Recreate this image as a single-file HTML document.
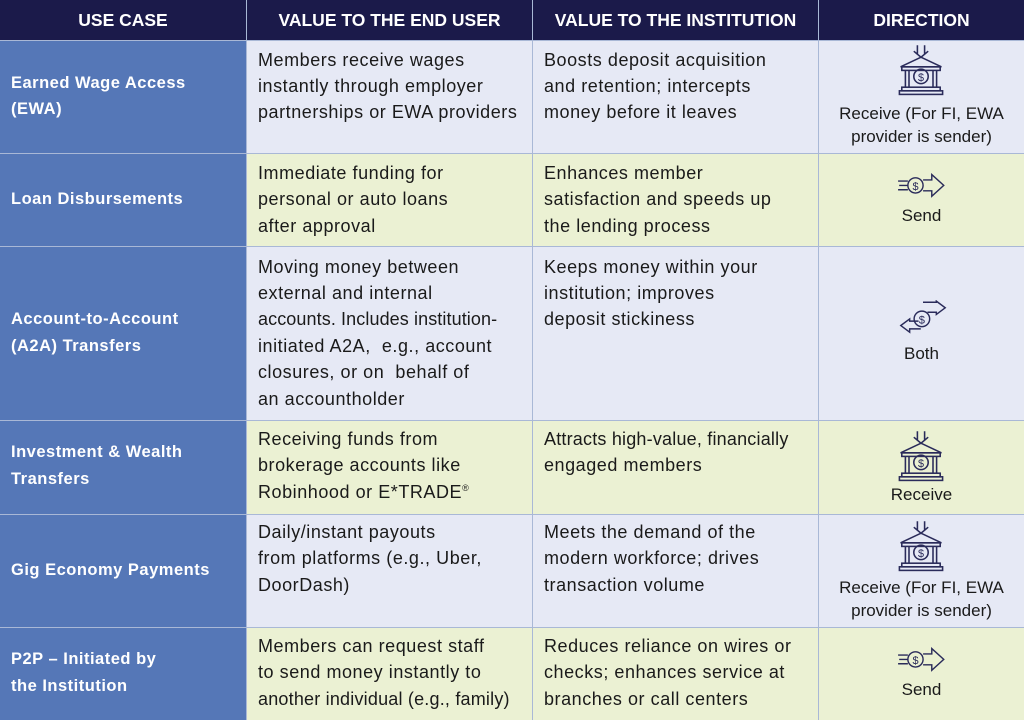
<!DOCTYPE html>
<html><head><meta charset="utf-8"><style>
body{margin:0;width:1024px;height:720px;overflow:hidden;background:#a9b8d6;font-family:"Liberation Sans",sans-serif;position:relative}
.c{position:absolute}
.h{background:#1b1a4a;color:#fff;font-weight:bold;font-size:17.5px;text-align:center;line-height:40px}
.b{background:#5577b7}.l{background:#e6e9f5}.g{background:#ebf1d3}
.t{position:absolute;font-size:18px;line-height:26px;color:#1a1a1a;white-space:nowrap;letter-spacing:0.55px}
.w{position:absolute;font-size:16.5px;line-height:26px;color:#fff;font-weight:bold;white-space:nowrap;letter-spacing:0.5px;left:11px}
.d{position:absolute;font-size:17px;line-height:23px;color:#1a1a1a;text-align:center;left:819px;width:205px;white-space:nowrap}
svg{position:absolute}
sup{font-size:9px;line-height:0;vertical-align:7px}
</style></head><body>
<div class="c h" style="left:0;top:0;width:246px;height:40px">USE CASE</div>
<div class="c h" style="left:247px;top:0;width:285px;height:40px">VALUE TO THE END USER</div>
<div class="c h" style="left:533px;top:0;width:285px;height:40px">VALUE TO THE INSTITUTION</div>
<div class="c h" style="left:819px;top:0;width:205px;height:40px">DIRECTION</div>

<div class="c b" style="left:0;top:41px;width:246px;height:112px"></div>
<div class="c l" style="left:247px;top:41px;width:285px;height:112px"></div>
<div class="c l" style="left:533px;top:41px;width:285px;height:112px"></div>
<div class="c l" style="left:819px;top:41px;width:205px;height:112px"></div>

<div class="c b" style="left:0;top:154px;width:246px;height:92px"></div>
<div class="c g" style="left:247px;top:154px;width:285px;height:92px"></div>
<div class="c g" style="left:533px;top:154px;width:285px;height:92px"></div>
<div class="c g" style="left:819px;top:154px;width:205px;height:92px"></div>

<div class="c b" style="left:0;top:247px;width:246px;height:173px"></div>
<div class="c l" style="left:247px;top:247px;width:285px;height:173px"></div>
<div class="c l" style="left:533px;top:247px;width:285px;height:173px"></div>
<div class="c l" style="left:819px;top:247px;width:205px;height:173px"></div>

<div class="c b" style="left:0;top:421px;width:246px;height:93px"></div>
<div class="c g" style="left:247px;top:421px;width:285px;height:93px"></div>
<div class="c g" style="left:533px;top:421px;width:285px;height:93px"></div>
<div class="c g" style="left:819px;top:421px;width:205px;height:93px"></div>

<div class="c b" style="left:0;top:515px;width:246px;height:112px"></div>
<div class="c l" style="left:247px;top:515px;width:285px;height:112px"></div>
<div class="c l" style="left:533px;top:515px;width:285px;height:112px"></div>
<div class="c l" style="left:819px;top:515px;width:205px;height:112px"></div>

<div class="c b" style="left:0;top:628px;width:246px;height:92px"></div>
<div class="c g" style="left:247px;top:628px;width:285px;height:92px"></div>
<div class="c g" style="left:533px;top:628px;width:285px;height:92px"></div>
<div class="c g" style="left:819px;top:628px;width:205px;height:92px"></div>

<!-- col1 -->
<div class="w" style="top:70px">Earned Wage Access</div>
<div class="w" style="top:96px">(EWA)</div>
<div class="w" style="top:186px">Loan Disbursements</div>
<div class="w" style="top:306px">Account-to-Account</div>
<div class="w" style="top:333px">(A2A) Transfers</div>
<div class="w" style="top:439px">Investment &amp; Wealth</div>
<div class="w" style="top:466px">Transfers</div>
<div class="w" style="top:557px">Gig Economy Payments</div>
<div class="w" style="top:646px">P2P – Initiated by</div>
<div class="w" style="top:673px">the Institution</div>

<!-- col2 -->
<div class="t" style="left:258px;top:47px">Members receive wages</div>
<div class="t" style="left:258px;top:73px">instantly through employer</div>
<div class="t" style="left:258px;top:99px">partnerships or EWA providers</div>
<div class="t" style="left:258px;top:160px">Immediate funding for</div>
<div class="t" style="left:258px;top:186px">personal or auto loans</div>
<div class="t" style="left:258px;top:213px">after approval</div>
<div class="t" style="left:258px;top:254px">Moving money between</div>
<div class="t" style="left:258px;top:280px">external and internal</div>
<div class="t" style="left:258px;top:306px;letter-spacing:0.1px">accounts. Includes institution-</div>
<div class="t" style="left:258px;top:333px">initiated A2A,&nbsp; e.g., account</div>
<div class="t" style="left:258px;top:359px">closures, or on&nbsp; behalf of</div>
<div class="t" style="left:258px;top:386px">an accountholder</div>
<div class="t" style="left:258px;top:426px">Receiving funds from</div>
<div class="t" style="left:258px;top:452px">brokerage accounts like</div>
<div class="t" style="left:258px;top:479px">Robinhood or E*TRADE<sup>®</sup></div>
<div class="t" style="left:258px;top:519px">Daily/instant payouts</div>
<div class="t" style="left:258px;top:545px">from platforms (e.g., Uber,</div>
<div class="t" style="left:258px;top:572px">DoorDash)</div>
<div class="t" style="left:258px;top:633px">Members can request staff</div>
<div class="t" style="left:258px;top:659px">to send money instantly to</div>
<div class="t" style="left:258px;top:686px;letter-spacing:0.2px">another individual (e.g., family)</div>

<!-- col3 -->
<div class="t" style="left:544px;top:47px">Boosts deposit acquisition</div>
<div class="t" style="left:544px;top:73px">and retention; intercepts</div>
<div class="t" style="left:544px;top:99px">money before it leaves</div>
<div class="t" style="left:544px;top:160px">Enhances member</div>
<div class="t" style="left:544px;top:186px">satisfaction and speeds up</div>
<div class="t" style="left:544px;top:213px">the lending process</div>
<div class="t" style="left:544px;top:254px">Keeps money within your</div>
<div class="t" style="left:544px;top:280px">institution; improves</div>
<div class="t" style="left:544px;top:306px">deposit stickiness</div>
<div class="t" style="left:544px;top:426px;letter-spacing:0.2px">Attracts high-value, financially</div>
<div class="t" style="left:544px;top:452px">engaged members</div>
<div class="t" style="left:544px;top:519px">Meets the demand of the</div>
<div class="t" style="left:544px;top:545px">modern workforce; drives</div>
<div class="t" style="left:544px;top:572px">transaction volume</div>
<div class="t" style="left:544px;top:633px">Reduces reliance on wires or</div>
<div class="t" style="left:544px;top:659px">checks; enhances service at</div>
<div class="t" style="left:544px;top:686px">branches or call centers</div>

<!-- col4 icons -->
<svg width="0" height="0"><defs>
<g id="bank" fill="none" stroke="#2a2b5a" stroke-width="1.3">
<path d="M17 1v8M23 1v8M14 6l6 5 6-5"/>
<path d="M3 19L20 11 37 19Z"/><rect x="4" y="19" width="32" height="3"/>
<path d="M7 22v14M10 22v14M30 22v14M33 22v14"/>
<circle cx="20" cy="27" r="6"/><text x="20" y="31" font-size="9" text-anchor="middle" fill="#2a2b5a" stroke="none" font-family="Liberation Sans">$</text>
<rect x="4" y="36" width="32" height="3"/><rect x="2" y="39" width="36" height="3"/>
</g>
<g id="send" fill="none" stroke="#2a2b5a" stroke-width="1.3">
<path d="M1 7h9M2 11h8M1 15h9"/><circle cx="17" cy="11" r="7"/>
<text x="17" y="15" font-size="10" text-anchor="middle" fill="#2a2b5a" stroke="none" font-family="Liberation Sans">$</text>
<path d="M24 6h8v-5l11 10-11 10v-5h-8"/>
</g>
</defs></svg>
<svg style="left:897px;top:44px" width="48" height="54" viewBox="0 0 40 45"><use href="#bank"/></svg>
<div class="d" style="top:102px">Receive (For FI, EWA</div>
<div class="d" style="top:125px">provider is sender)</div>
<svg style="left:897px;top:173px" width="50" height="27" viewBox="0 0 46 24"><use href="#send"/></svg>
<div class="d" style="top:204px">Send</div>
<svg style="left:898px;top:300px" width="50" height="40" viewBox="0 0 44 36" fill="none" stroke="#2a2b5a" stroke-width="1.3">
<path d="M22 2h12v-1l8 6-8 6v-2h-8"/><path d="M20 26H10v3l-8-6 8-6v2h8"/>
<circle cx="21" cy="17" r="7"/><text x="21" y="21" font-size="10" text-anchor="middle" fill="#2a2b5a" stroke="none" font-family="Liberation Sans">$</text></svg>
<div class="d" style="top:342px">Both</div>
<svg style="left:897px;top:430px" width="48" height="54" viewBox="0 0 40 45"><use href="#bank"/></svg>
<div class="d" style="top:483px">Receive</div>
<svg style="left:897px;top:520px" width="48" height="54" viewBox="0 0 40 45"><use href="#bank"/></svg>
<div class="d" style="top:576px">Receive (For FI, EWA</div>
<div class="d" style="top:599px">provider is sender)</div>
<svg style="left:897px;top:647px" width="50" height="27" viewBox="0 0 46 24"><use href="#send"/></svg>
<div class="d" style="top:678px">Send</div>
</body></html>
